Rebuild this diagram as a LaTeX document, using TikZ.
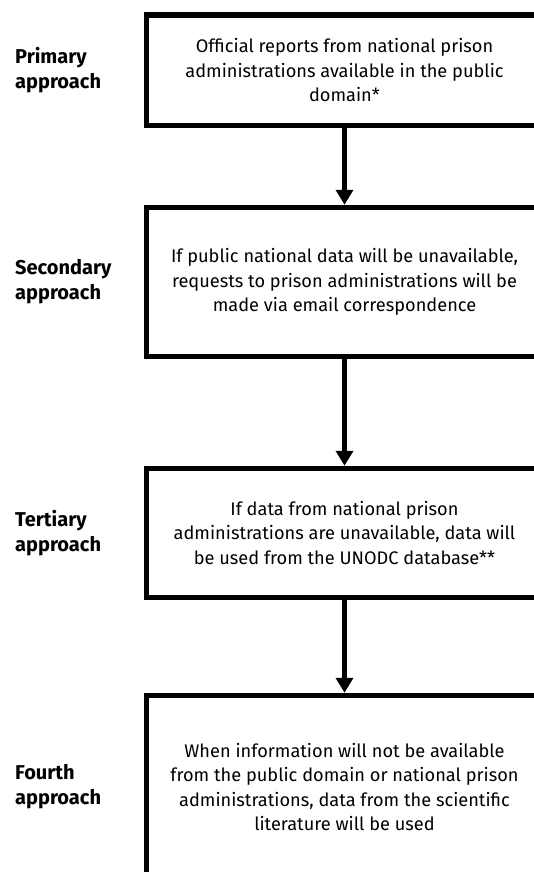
\documentclass[tikz,border=0pt]{standalone}
\usepackage{fontspec}
\setmainfont{Fira Sans}
\usetikzlibrary{arrows.meta, positioning}

\begin{document}
\begin{tikzpicture}[
x=1pt, y=1pt,
>={Triangle[length=15pt, width=17pt]},
stagebox/.style={rectangle, draw, line width=5.5pt, minimum width=396pt, align=center, font=\fontsize{18.2}{24.5}\selectfont},
stagelabel/.style={anchor=west, align=left, inner sep=0pt, font=\fontsize{20}{25}\selectfont\bfseries},
flow/.style={->, line width=5pt}
]
\useasboundingbox (0,0) rectangle (534,-872);
\clip (0,0) rectangle (534,-872);

\node[stagebox, minimum height=110.5pt] (primary) at (344.5,-70.25) {Official reports from national prison\\administrations available in the public\\domain*};
\node[stagebox, minimum height=149pt, below=76.5pt of primary] (secondary) {If public national data will be unavailable,\\requests to prison administrations will be\\made via email correspondence};
\node[stagebox, minimum height=129pt, below=106.5pt of secondary] (tertiary) {If data from national prison\\administrations are unavailable, data will\\be used from the UNODC database**};
\node[stagebox, minimum height=183pt, below=92.5pt of tertiary] (fourth) {When information will not be available\\from the public domain or national prison\\administrations, data from the scientific\\literature will be used};

\coordinate (lx) at (15,0);
\node[stagelabel] (lprimary) at (lx |- primary) {Primary\\approach};
\node[stagelabel] (lsecondary) at (lx |- secondary) {Secondary\\approach};
\node[stagelabel] (ltertiary) at (lx |- tertiary) {Tertiary\\approach};
\node[stagelabel] (lfourth) at (lx |- fourth) {Fourth\\approach};

\draw[flow] (primary) -- (secondary);
\draw[flow] (secondary) -- (tertiary);
\draw[flow] (tertiary) -- (fourth);

\end{tikzpicture}
\end{document}
